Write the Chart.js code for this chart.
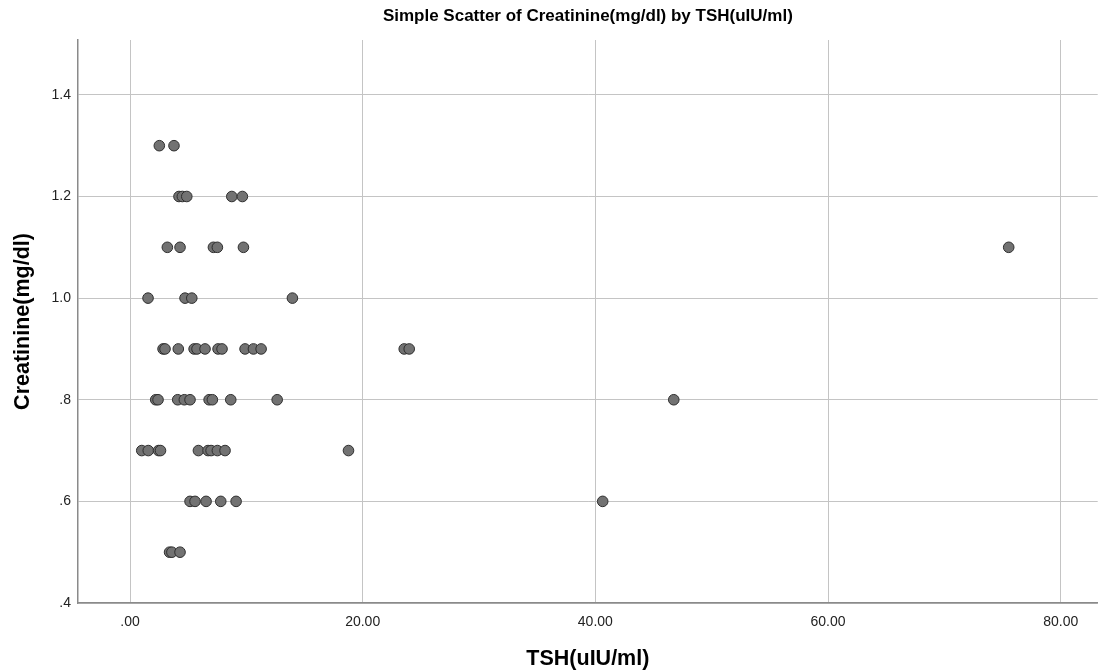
<!DOCTYPE html>
<html>
<head>
<meta charset="utf-8">
<script src="https://cdn.jsdelivr.net/npm/chart.js@4/dist/chart.umd.min.js"></script>
<style>
  html, body { margin: 0; padding: 0; background: #ffffff; }
  #wrap { width: 1104px; height: 672px; }
</style>
</head>
<body>
<div id="wrap"><canvas id="grafico"></canvas></div>
<script>
// valores (TSH x Creatinina)
const tsh = [
  2.52, 3.78,
  4.21, 4.50, 4.88, 8.75, 9.66,
  3.21, 4.30, 7.17, 7.51, 9.75, 75.53,
  1.55, 4.73, 5.31, 13.96,
  2.84, 3.01, 4.15, 5.51, 5.76, 6.45, 7.57, 7.91, 9.89, 10.61, 11.27, 23.57, 24.00,
  2.21, 2.41, 4.10, 4.67, 5.16, 6.80, 7.08, 8.66, 12.65, 46.74,
  1.01, 1.57, 2.45, 2.62, 5.88, 6.71, 6.97, 7.51, 8.17, 18.78,
  5.16, 5.59, 6.54, 7.80, 9.12, 40.63,
  3.40, 3.60, 4.30
];
const creatinina = [
  1.3, 1.3,
  1.2, 1.2, 1.2, 1.2, 1.2,
  1.1, 1.1, 1.1, 1.1, 1.1, 1.1,
  1.0, 1.0, 1.0, 1.0,
  0.9, 0.9, 0.9, 0.9, 0.9, 0.9, 0.9, 0.9, 0.9, 0.9, 0.9, 0.9, 0.9,
  0.8, 0.8, 0.8, 0.8, 0.8, 0.8, 0.8, 0.8, 0.8, 0.8,
  0.7, 0.7, 0.7, 0.7, 0.7, 0.7, 0.7, 0.7, 0.7, 0.7,
  0.6, 0.6, 0.6, 0.6, 0.6, 0.6,
  0.5, 0.5, 0.5
];
const ticksX = [0, 20, 40, 60, 80];
const ticksY = [0.4, 0.6, 0.8, 1.0, 1.2, 1.4];

const fonte = '"Liberation Sans", Arial, sans-serif';

const pontos = tsh.map((x, i) => ({ x: x, y: creatinina[i] }));

new Chart(document.getElementById('grafico'), {
  type: 'scatter',
  data: {
    datasets: [{
      label: 'Creatinine(mg/dl)',
      data: pontos,
      pointRadius: 5.3,
      pointHoverRadius: 5.3,
      backgroundColor: '#727272',
      borderColor: '#2e2e2e',
      borderWidth: 1
    }]
  },
  options: {
    responsive: true,
    maintainAspectRatio: false,
    animation: false,
    layout: { padding: 0 },
    plugins: {
      legend: { display: false },
      tooltip: { enabled: false },
      title: { display: false }
    },
    scales: {
      x: {
        type: 'linear',
        min: -4.47,
        max: 83.18,
        afterFit: s => { s.height = 69; },
        afterBuildTicks: s => { s.ticks = ticksX.map(v => ({ value: v })); },
        border: { color: '#8a8a8a', width: 1.5 },
        grid: { color: '#c4c4c4', lineWidth: 1, drawTicks: false },
        ticks: {
          padding: 11,
          color: '#222222',
          font: { family: fonte, size: 14 },
          callback: v => v === 0 ? '.00' : v.toFixed(2)
        },
        title: {
          display: true,
          text: 'TSH(uIU/ml)',
          color: '#000000',
          font: { family: fonte, size: 21.5, weight: 'bold' },
          padding: { top: 0, bottom: 0 }
        }
      },
      // eixo de cima só para centralizar o título sobre a área do gráfico
      topo: {
        type: 'linear',
        position: 'top',
        display: true,
        afterFit: s => { s.height = 40; },
        border: { display: false },
        grid: { display: false, drawTicks: false },
        ticks: { display: false },
        title: {
          display: true,
          text: 'Simple Scatter of Creatinine(mg/dl) by TSH(uIU/ml)',
          color: '#000000',
          font: { family: fonte, size: 17, weight: 'bold' },
          padding: { top: 6, bottom: 6 }
        }
      },
      y: {
        type: 'linear',
        min: 0.4,
        max: 1.508,
        afterFit: s => { s.width = 78; },
        afterBuildTicks: s => { s.ticks = ticksY.map(v => ({ value: v })); },
        border: { color: '#8a8a8a', width: 1.5 },
        grid: { color: '#c4c4c4', lineWidth: 1, drawTicks: false },
        ticks: {
          padding: 7,
          color: '#222222',
          font: { family: fonte, size: 14 },
          callback: v => v < 1 ? v.toFixed(1).replace('0.', '.') : v.toFixed(1)
        },
        title: {
          display: true,
          text: 'Creatinine(mg/dl)',
          color: '#000000',
          font: { family: fonte, size: 21.5, weight: 'bold' },
          padding: { top: 10, bottom: 10 }
        }
      }
    }
  }
});
</script>
</body>
</html>
